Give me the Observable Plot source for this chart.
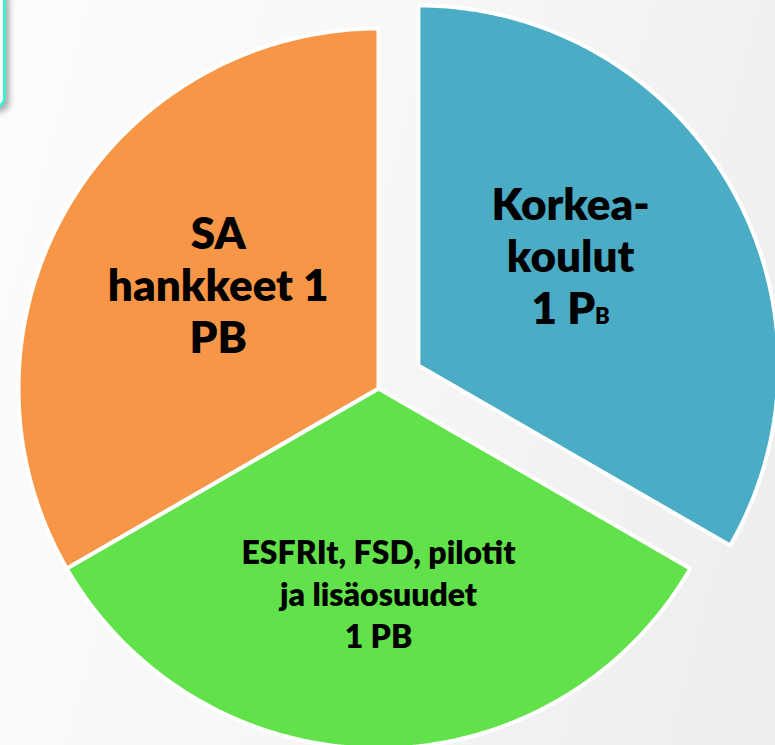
<!DOCTYPE html>
<html>
<head>
<meta charset="utf-8">
<script src="https://cdn.jsdelivr.net/npm/d3@7"></script>
<script src="https://cdn.jsdelivr.net/npm/@observablehq/plot@0.6"></script>
<style>
html, body { margin: 0; padding: 0; width: 775px; height: 745px; overflow: hidden; }
body {
  position: relative;
  background: linear-gradient(105deg, #fcfcfc 0%, #f7f7f7 45%, #ededed 100%);
  font-family: Lato, "Open Sans", sans-serif;
}
#box {
  position: absolute; left: -200px; top: -14px; width: 200px; height: 116px;
  border: 3px solid #3FF0D0; border-radius: 10px; background: #ffffff;
  box-shadow: 3px 4px 6px rgba(0,0,0,0.35);
}
#chart { position: absolute; left: 0; top: 0; }
</style>
</head>
<body>
<div id="box"></div>
<div id="chart"></div>
<script>
// ---- data ----
const categories = ["Korkeakoulut", "ESFRIt, FSD, pilotit ja lisäosuudet", "SA hankkeet"];
const values = [1, 1, 1];
const labels = ["Korkea-\nkoulut\n1 PB", "ESFRIt, FSD, pilotit\nja lisäosuudet\n1 PB", "SA\nhankkeet 1\nPB"];
const colors = ["#4BACC6", "#62E24A", "#F79646"];

// ---- layout constants (styles) ----
const W = 775, H = 745;
const cxPx = 378, cyPx = 388, Rpx = 360;      // pie centre / radius in pixels
const explodeAmount = [0.128, 0, 0];           // pulled-out slice
const labelRadius = 0.53;

// build slice polygons from d3.pie angles
const arcs = d3.pie().sort(null).value(d => d)(values);
const polys = [];
const labelRows = [];
arcs.forEach((a, i) => {
  const mid = (a.startAngle + a.endAngle) / 2;
  const ox = explodeAmount[i] * Math.sin(mid);
  const oy = explodeAmount[i] * Math.cos(mid);
  polys.push({cat: categories[i], x: ox, y: oy});
  const n = 240;
  for (let k = 0; k <= n; k++) {
    const t = a.startAngle + (a.endAngle - a.startAngle) * k / n;
    polys.push({cat: categories[i], x: ox + Math.sin(t), y: oy + Math.cos(t)});
  }
  labelRows.push({
    cat: categories[i],
    label: labels[i],
    x: ox + labelRadius * Math.sin(mid),
    y: oy + labelRadius * Math.cos(mid)
  });
});

const chart = Plot.plot({
  width: W,
  height: H,
  margin: 0,
  style: {background: "transparent", fontFamily: "Lato, 'Open Sans', sans-serif"},
  x: {domain: [-cxPx / Rpx, (W - cxPx) / Rpx], axis: null},
  y: {domain: [-(H - cyPx) / Rpx, cyPx / Rpx], axis: null},
  color: {domain: categories, range: colors},
  marks: [
    Plot.line(polys, {
      x: "x", y: "y", z: "cat", fill: "cat",
      stroke: "white", strokeWidth: 4, strokeLinejoin: "miter",
      curve: "linear-closed"
    }),
    Plot.text(labelRows.filter(d => d.cat === categories[0]), {
      x: "x", y: "y", text: "label", fill: "black",
      fontSize: 44, fontWeight: 800, lineHeight: 1.18, dx: -13, dy: -15
    }),
    Plot.text(labelRows.filter(d => d.cat === categories[1]), {
      x: "x", y: "y", text: "label", fill: "black",
      fontSize: 32, fontWeight: 800, lineHeight: 1.31, dy: 13
    }),
    Plot.text(labelRows.filter(d => d.cat === categories[2]), {
      x: "x", y: "y", text: "label", fill: "black",
      fontSize: 44, fontWeight: 800, lineHeight: 1.18, dx: 5, dy: -9
    })
  ]
});

// subscript-style small "B" in the first label's last line
const textGroups = chart.querySelectorAll("g[aria-label='text']");
if (textGroups.length) {
  textGroups[0].querySelectorAll("tspan").forEach(ts => {
    if (ts.textContent === "1 PB") {
      ts.textContent = "1 P";
      const sub = document.createElementNS("http://www.w3.org/2000/svg", "tspan");
      sub.setAttribute("font-size", "0.5em");
      sub.textContent = "B";
      ts.appendChild(sub);
    }
  });
}

document.getElementById("chart").appendChild(chart);
</script>
</body>
</html>
